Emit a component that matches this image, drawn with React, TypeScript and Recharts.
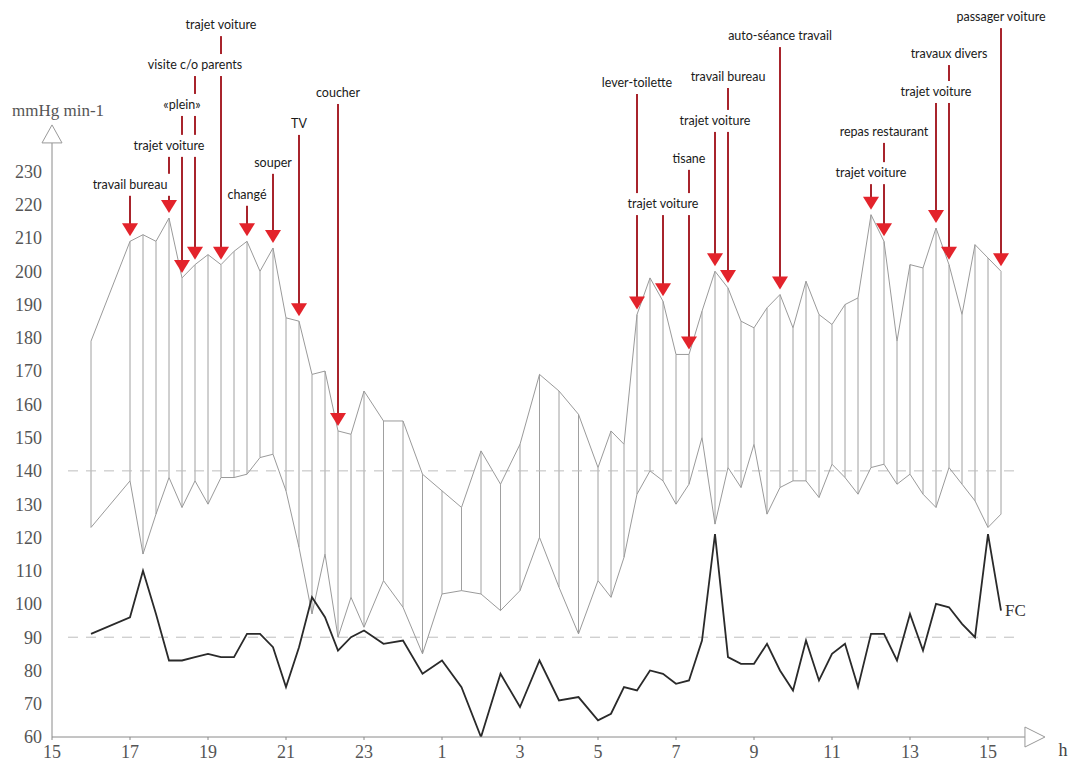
import React from 'react';
import {
  ComposedChart,
  Line,
  Bar,
  XAxis,
  YAxis,
  ReferenceLine,
  ReferenceDot,
} from 'recharts';

// measurement times (clock), first day 16:00 -> next day 15:20
const TIMES = [
  '16:00', '17:00', '17:20', '17:40', '18:00', '18:20', '18:40', '19:00', '19:20', '19:40',
  '20:00', '20:20', '20:40', '21:00', '21:20', '21:40', '22:00', '22:20', '22:40', '23:00',
  '23:30', '0:00', '0:30', '1:00', '1:30', '2:00', '2:30', '3:00', '3:30', '4:00',
  '4:30', '5:00', '5:20', '5:40', '6:00', '6:20', '6:40', '7:00', '7:20', '7:40',
  '8:00', '8:20', '8:40', '9:00', '9:20', '9:40', '10:00', '10:20', '10:40', '11:00',
  '11:20', '11:40', '12:00', '12:20', '12:40', '13:00', '13:20', '13:40', '14:00', '14:20',
  '14:40', '15:00', '15:20',
];

const SYSTOLIC = [
  179, 209, 211, 209, 216, 198, 202, 205, 202, 206,
  209, 200, 207, 186, 185, 169, 170, 152, 151, 164,
  155, 155, 139, 134, 129, 146, 136, 148, 169, 164,
  157, 141, 152, 148, 187, 198, 191, 175, 175, 188,
  200, 195, 185, 183, 189, 193, 183, 197, 187, 184,
  190, 192, 217, 209, 179, 202, 201, 213, 202, 187,
  208, 204, 200,
];

const DIASTOLIC = [
  123, 137, 115, 127, 138, 129, 137, 130, 138, 138,
  139, 144, 145, 134, 117, 97, 115, 90, 102, 93,
  107, 99, 85, 103, 104, 103, 98, 104, 120, 105,
  91, 107, 102, 114, 133, 140, 137, 130, 136, 150,
  124, 141, 135, 148, 127, 135, 137, 137, 132, 142,
  138, 133, 141, 142, 136, 139, 133, 129, 141, 136,
  131, 123, 127,
];

const HEART_RATE = [
  91, 96, 110, 97, 83, 83, 84, 85, 84, 84,
  91, 91, 87, 75, 87, 102, 96, 86, 90, 92,
  88, 89, 79, 83, 75, 60, 79, 69, 83, 71,
  72, 65, 67, 75, 74, 80, 79, 76, 77, 89,
  121, 84, 82, 82, 88, 80, 74, 89, 77, 85,
  88, 75, 91, 91, 83, 97, 86, 100, 99, 94,
  90, 121, 98,
];

const Y_TICKS = [60, 70, 80, 90, 100, 110, 120, 130, 140, 150, 160, 170, 180, 190, 200, 210, 220, 230];
const X_TICKS = [0, 2, 4, 6, 8, 10, 12, 14, 16, 18, 20, 22, 24];
const X_TICK_LABELS = ['15', '17', '19', '21', '23', '1', '3', '5', '7', '9', '11', '13', '15'];

// activity notes: measurement time, text, height of the note (mmHg scale)
const EVENTS = [
  { time: '17:00', text: 'travail bureau', level: 226 },
  { time: '18:00', text: 'trajet voiture', level: 237.7 },
  { time: '18:20', text: '«plein»', level: 250 },
  { time: '18:40', text: 'visite c/o parents', level: 262 },
  { time: '19:20', text: 'trajet voiture', level: 274 },
  { time: '20:00', text: 'changé', level: 223 },
  { time: '20:40', text: 'souper', level: 232.6 },
  { time: '21:20', text: 'TV', level: 244.3 },
  { time: '22:20', text: 'coucher', level: 253.6 },
  { time: '6:00', text: 'lever-toilette', level: 256.6 },
  { time: '6:40', text: 'trajet voiture', level: 220.2 },
  { time: '7:20', text: 'tisane', level: 233.8 },
  { time: '8:00', text: 'trajet voiture', level: 245.2 },
  { time: '8:20', text: 'travail bureau', level: 258.4 },
  { time: '9:40', text: 'auto-séance travail', level: 270.7 },
  { time: '12:20', text: 'repas restaurant', level: 241.9 },
  { time: '12:00', text: 'trajet voiture', level: 229.5 },
  { time: '14:00', text: 'travaux divers', level: 265.3 },
  { time: '13:40', text: 'trajet voiture', level: 253.9 },
  { time: '15:20', text: 'passager voiture', level: 276.4 },
];

const Y_TOP = 281.55;
const X_END = 25.5;
const SERIF = '"Liberation Serif", "DejaVu Serif", serif';
const NOTE_FONT = 'Lato, "Open Sans", sans-serif';

// hours elapsed since 15:00 on the first day
function toHours(list: string[]) {
  let prev = -Infinity;
  return list.map((s) => {
    const [h, m] = s.split(':').map(Number);
    let v = h + m / 60 - 15;
    while (v < prev) v += 24;
    prev = v;
    return v;
  });
}

const HOURS = toHours(TIMES);
const data = TIMES.map((time, i) => ({
  time,
  t: HOURS[i],
  sys: SYSTOLIC[i],
  dia: DIASTOLIC[i],
  fc: HEART_RATE[i],
  range: [DIASTOLIC[i], SYSTOLIC[i]],
}));

let ctx: CanvasRenderingContext2D | null = null;
function textWidth(s: string) {
  if (!ctx) ctx = document.createElement('canvas').getContext('2d');
  if (!ctx) return s.length * 6;
  ctx.font = `12.5px ${NOTE_FONT}`;
  return ctx.measureText(s).width;
}

const VLine = (p: any) => {
  const cx = p.x + p.width / 2;
  const top = Math.min(p.y, p.y + p.height);
  const bottom = Math.max(p.y, p.y + p.height);
  return <line x1={cx} x2={cx} y1={top} y2={bottom} stroke="#a0a0a0" strokeWidth={1} />;
};

export default function App() {
  const notes = EVENTS.map((e) => {
    const i = TIMES.indexOf(e.time);
    return { ...e, t: HOURS[i], tip: SYSTOLIC[i] + 1.5 };
  });
  const last = data[data.length - 1];

  return (
    <div style={{ position: 'absolute', left: 0, top: 0, background: '#fff' }}>
      <ComposedChart
        width={1071}
        height={762}
        data={data}
        margin={{ top: 0, right: 24.5, bottom: 0, left: 7 }}
      >
        <XAxis
          type="number"
          dataKey="t"
          domain={[0, X_END]}
          ticks={X_TICKS}
          tickFormatter={(v: number) => X_TICK_LABELS[X_TICKS.indexOf(v)] ?? ''}
          axisLine={false}
          tickLine={{ stroke: '#888' }}
          tickSize={3}
          tickMargin={5}
          height={25}
          allowDataOverflow
          tick={{ fill: '#555', fontSize: 18, fontFamily: SERIF }}
        />
        <YAxis
          type="number"
          domain={[60, Y_TOP]}
          ticks={Y_TICKS}
          axisLine={false}
          tickLine={false}
          tickSize={0}
          tickMargin={10}
          width={45}
          allowDataOverflow
          tick={{ fill: '#555', fontSize: 18, fontFamily: SERIF }}
        />

        <ReferenceLine segment={[{ x: 0.41, y: 140 }, { x: 24.77, y: 140 }]} stroke="#bdbdbd" strokeDasharray="10 8" />
        <ReferenceLine segment={[{ x: 0.41, y: 90 }, { x: 24.77, y: 90 }]} stroke="#bdbdbd" strokeDasharray="10 8" />

        <Bar dataKey="range" barSize={1} shape={VLine} isAnimationActive={false} />
        <Line type="linear" dataKey="sys" stroke="#9a9a9a" strokeWidth={1} dot={false} isAnimationActive={false} />
        <Line type="linear" dataKey="dia" stroke="#9a9a9a" strokeWidth={1} dot={false} isAnimationActive={false} />
        <Line type="linear" dataKey="fc" stroke="#2a2a2a" strokeWidth={1.8} dot={false} isAnimationActive={false} />

        {/* axes with open arrowheads */}
        <ReferenceLine segment={[{ x: 0, y: 60 }, { x: 24.95, y: 60 }]} stroke="#8a8a8a" ifOverflow="visible" />
        <ReferenceLine segment={[{ x: 0, y: 60 }, { x: 0, y: 238.6 }]} stroke="#8a8a8a" ifOverflow="visible" />
        <ReferenceDot
          x={X_END - 0.04}
          y={60}
          r={0}
          ifOverflow="visible"
          shape={(p: any) => (
            <path d={`M${p.cx},${p.cy} L${p.cx - 20},${p.cy - 10} L${p.cx - 20},${p.cy + 10} Z`} fill="#fff" stroke="#999" />
          )}
        />
        <ReferenceDot
          x={0}
          y={244}
          r={0}
          ifOverflow="visible"
          shape={(p: any) => (
            <path d={`M${p.cx},${p.cy} L${p.cx - 10},${p.cy + 18} L${p.cx + 10},${p.cy + 18} Z`} fill="#fff" stroke="#999" />
          )}
        />
        <ReferenceDot
          x={0}
          y={246.7}
          r={0}
          ifOverflow="visible"
          shape={(p: any) => (
            <text x={p.cx - 40} y={p.cy} fill="#555" fontSize={17} fontFamily={SERIF}>
              mmHg min-1
            </text>
          )}
        />
        <ReferenceDot
          x={X_END}
          y={60}
          r={0}
          ifOverflow="visible"
          shape={(p: any) => (
            <text x={p.cx + 12} y={p.cy + 19} fill="#444" fontSize={18} fontFamily={SERIF}>
              h
            </text>
          )}
        />
        <ReferenceDot
          x={last.t}
          y={last.fc}
          r={0}
          ifOverflow="visible"
          shape={(p: any) => (
            <text x={p.cx + 4} y={p.cy + 5} fill="#333" fontSize={17} fontFamily={SERIF}>
              FC
            </text>
          )}
        />

        {/* activity arrows */}
        {notes.map((n, i) => (
          <ReferenceLine
            key={`l${i}`}
            segment={[{ x: n.t, y: n.level }, { x: n.t, y: n.tip + 3 }]}
            stroke="#a8242c"
            strokeWidth={2}
            ifOverflow="visible"
            zIndex={700}
          />
        ))}
        {notes.map((n, i) => (
          <ReferenceDot
            key={`a${i}`}
            x={n.t}
            y={n.tip}
            r={0}
            ifOverflow="visible"
            zIndex={710}
            shape={(p: any) => (
              <path d={`M${p.cx - 8},${p.cy - 13} L${p.cx + 8},${p.cy - 13} L${p.cx},${p.cy} Z`} fill="#e3232b" />
            )}
          />
        ))}
        {notes.map((n, i) => (
          <ReferenceDot
            key={`n${i}`}
            x={n.t}
            y={n.level}
            r={0}
            ifOverflow="visible"
            zIndex={800}
            shape={(p: any) => {
              const w = textWidth(n.text) + 6;
              return (
                <g>
                  <rect x={p.cx - w / 2} y={p.cy - 11} width={w} height={22} fill="#fff" />
                  <text
                    x={p.cx}
                    y={p.cy + 4}
                    textAnchor="middle"
                    fill="#1a1a1a"
                    fontSize={12.5}
                    fontFamily={NOTE_FONT}
                  >
                    {n.text}
                  </text>
                </g>
              );
            }}
          />
        ))}
      </ComposedChart>
    </div>
  );
}
